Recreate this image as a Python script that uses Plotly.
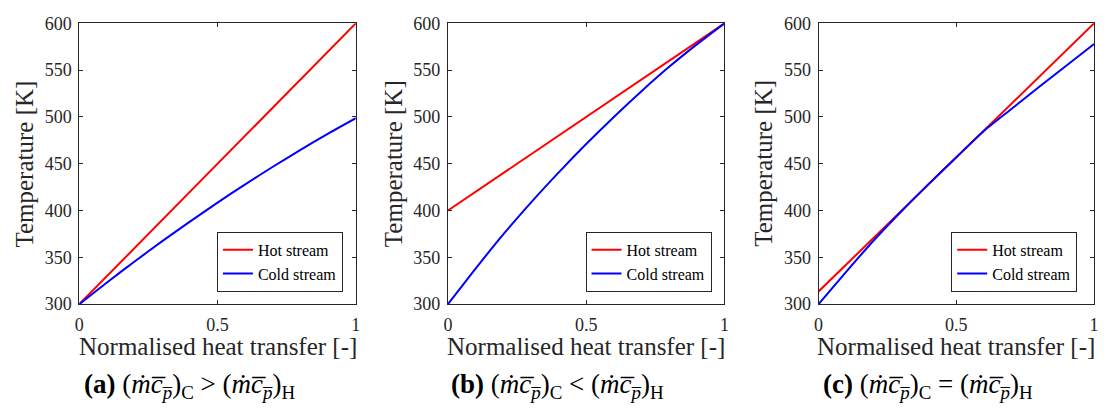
import plotly.graph_objects as go

# ---- data ----
x_cold = [0.0, 0.1, 0.2, 0.3, 0.4, 0.5, 0.6, 0.7, 0.8, 0.9, 1.0]
x_hot = [0.0, 1.0]

hot_a = [300, 600]
cold_a = [300, 323.2, 345.6, 367.3, 388.2, 408.5, 428.0, 446.8, 464.8, 482.2, 498.7]

hot_b = [400, 600]
cold_b = [300, 338.0, 374.5, 408.5, 440.5, 471.0, 500.0, 527.5, 553.5, 577.5, 600]

hot_c = [313.6, 600]
cold_c = [300, 334.5, 368.0, 399.0, 428.5, 457.0, 485.0, 508.5, 532.0, 555.0, 578.0]

y_ticks = [300, 350, 400, 450, 500, 550, 600]
y_tick_labels = ["300", "350", "400", "450", "500", "550", "600"]
x_ticks = [0, 0.5, 1]
x_tick_labels = ["0", "0.5", "1"]

series_names = ["Hot stream", "Cold stream"]
captions = [
    "<b>(a)</b> (<i>ṁc̅</i><sub><i>p̅</i></sub>)<sub>C</sub> > (<i>ṁc̅</i><sub><i>p̅</i></sub>)<sub>H</sub>",
    "<b>(b)</b> (<i>ṁc̅</i><sub><i>p̅</i></sub>)<sub>C</sub> < (<i>ṁc̅</i><sub><i>p̅</i></sub>)<sub>H</sub>",
    "<b>(c)</b> (<i>ṁc̅</i><sub><i>p̅</i></sub>)<sub>C</sub> = (<i>ṁc̅</i><sub><i>p̅</i></sub>)<sub>H</sub>",
]
x_title = "Normalised heat transfer [-]"
y_title = "Temperature [K]"

# ---- layout geometry (pixels) ----
W, H = 1106, 416
plot_left = [75, 447, 821]
plot_right = [354, 726, 1099]
plot_top, plot_bottom = 14, 309
legend_right = [341, 713, 1082]
legend_bottom = 296

FONT = "Liberation Serif"
AX = "#262626"

fig = go.Figure()
panels = [(hot_a, cold_a), (hot_b, cold_b), (hot_c, cold_c)]
for i, (hot, cold) in enumerate(panels):
    sx = "" if i == 0 else str(i + 1)
    leg = "legend" if i == 0 else f"legend{i + 1}"
    fig.add_trace(go.Scatter(x=x_hot, y=hot, mode="lines", name=series_names[0],
                             line=dict(color="#FF0000", width=2),
                             xaxis="x" + sx, yaxis="y" + sx, legend=leg))
    fig.add_trace(go.Scatter(x=x_cold, y=cold, mode="lines", name=series_names[1],
                             line=dict(color="#0000FF", width=2, shape="spline", smoothing=0.6),
                             xaxis="x" + sx, yaxis="y" + sx, legend=leg))

layout = dict(
    width=W, height=H, autosize=False,
    margin=dict(l=0, r=0, t=0, b=0, pad=0),
    paper_bgcolor="white", plot_bgcolor="white",
    font=dict(family=FONT, color=AX),
    showlegend=True,
)
annotations = []
yd = [(H - plot_bottom) / H, (H - plot_top) / H]
for i in range(3):
    sx = "" if i == 0 else str(i + 1)
    xd = [plot_left[i] / W, plot_right[i] / W]
    layout["xaxis" + sx] = dict(
        domain=xd, anchor="y" + sx, range=[0, 1],
        tickvals=x_ticks, ticktext=x_tick_labels,
        ticks="inside", ticklen=4, tickwidth=1, tickcolor=AX,
        showline=True, linecolor=AX, linewidth=1, mirror="ticks",
        showgrid=False, zeroline=False,
        tickfont=dict(family=FONT, size=18, color=AX),
        ticklabelstandoff=4, ticklabeloverflow="allow",
    )
    layout["yaxis" + sx] = dict(
        domain=yd, anchor="x" + sx, range=[300, 600],
        tickvals=y_ticks, ticktext=y_tick_labels,
        ticks="inside", ticklen=4, tickwidth=1, tickcolor=AX,
        showline=True, linecolor=AX, linewidth=1, mirror="ticks",
        showgrid=False, zeroline=False,
        tickfont=dict(family=FONT, size=18, color=AX),
        ticklabelstandoff=3, ticklabeloverflow="allow",
    )
    leg = "legend" if i == 0 else f"legend{i + 1}"
    layout[leg] = dict(
        x=legend_right[i] / W, y=(H - legend_bottom) / H,
        xanchor="right", yanchor="bottom",
        bgcolor="white", bordercolor=AX, borderwidth=1,
        font=dict(family=FONT, size=16, color="black"),
        tracegroupgap=0,
    )
    cx = (plot_left[i] + plot_right[i]) / 2
    annotations.append(dict(
        text=x_title, x=cx / W, y=(H - 354) / H, xref="paper", yref="paper",
        xanchor="center", yanchor="middle", showarrow=False,
        font=dict(family=FONT, size=25, color=AX)))
    annotations.append(dict(
        text=y_title, x=(plot_left[i] - 55) / W, y=(H - (plot_top + plot_bottom) / 2) / H,
        xref="paper", yref="paper", textangle=-90,
        xanchor="center", yanchor="middle", showarrow=False,
        font=dict(family=FONT, size=25, color=AX)))
    annotations.append(dict(
        text=captions[i], x=(cx - 28.5) / W, y=(H - 395) / H, xref="paper", yref="paper",
        xanchor="center", yanchor="middle", showarrow=False,
        font=dict(family=FONT, size=27, color="black")))
layout["annotations"] = annotations
fig.update_layout(**layout)
fig.write_html("out.html")
